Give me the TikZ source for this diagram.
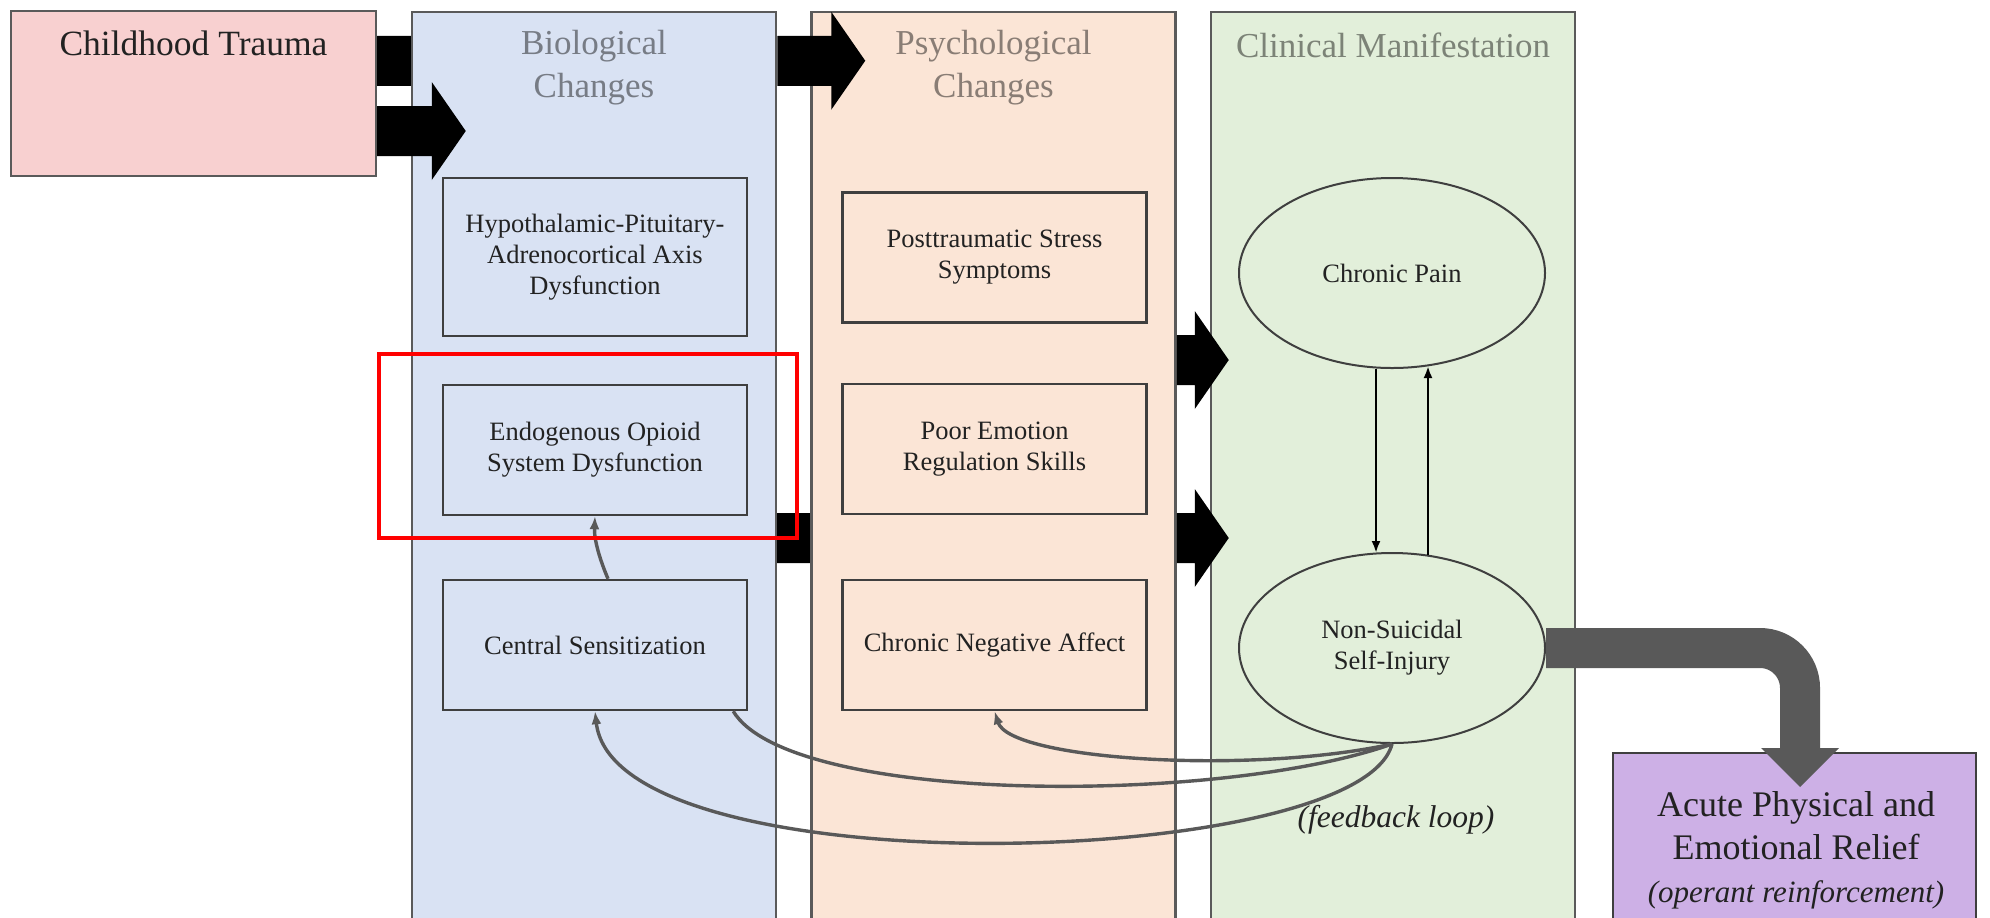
\documentclass[tikz,border=0pt]{standalone}
\usepackage{fontspec}
\setmainfont{Liberation Serif}
\usetikzlibrary{calc,shapes.geometric,arrows.meta,backgrounds}

\definecolor{ctfill}{HTML}{F8D0D0}
\definecolor{biofill}{HTML}{D9E2F3}
\definecolor{psyfill}{HTML}{FBE5D6}
\definecolor{clinfill}{HTML}{E2EFDA}
\definecolor{relieffill}{HTML}{CDB0E6}
\definecolor{edgegray}{HTML}{5A5A5A}
\definecolor{boxedge}{HTML}{3F3F3F}
\definecolor{loopgray}{HTML}{595959}
\definecolor{inktext}{HTML}{222222}
\definecolor{markred}{HTML}{FF0000}

\tikzset{
  stagecol/.style={draw=edgegray, line width=1.25pt, inner sep=0pt,
    minimum width=182pt, minimum height=464pt},
  coltitle/.style={text=black, text opacity=0.45, align=center,
    font=\fontsize{17.5}{21.5}\selectfont},
  headbox/.style={draw=edgegray, line width=1.1pt, fill=ctfill, inner sep=0pt,
    minimum width=182.5pt, minimum height=82.5pt},
  headtext/.style={text=inktext, font=\fontsize{17.75}{21.5}\selectfont},
  stagebox/.style={draw=boxedge, line width=1.2pt, inner sep=0pt,
    minimum width=152pt, minimum height=65pt, align=center, text=inktext,
    font=\fontsize{13.25}{15.5}\selectfont},
  outcome/.style={ellipse, draw=boxedge, line width=1pt, inner sep=0pt,
    minimum width=153pt, minimum height=95pt, align=center, text=inktext,
    font=\fontsize{13.25}{15.5}\selectfont},
  fatfill/.style={fill=black},
  link/.style={draw=black, line width=1.3pt, -{Latex[length=6pt,width=4.5pt]}},
  feedback/.style={draw=loopgray, line width=1.7pt},
  feedtip/.style={-{Latex[length=6.5pt,width=5pt]}},
  reliefbox/.style={draw=boxedge, line width=1.1pt, fill=relieffill, inner sep=0pt,
    minimum width=181.5pt, minimum height=93.5pt},
  relieftext/.style={text=inktext, align=center, font=\fontsize{18}{21.5}\selectfont},
  reliefshaft/.style={draw=loopgray, line width=20pt, rounded corners=20pt},
  highlight/.style={draw=markred, line width=2.1pt, inner sep=0pt,
    minimum width=209pt, minimum height=92pt},
}

% block arrow from a start coordinate to a tip coordinate (horizontal)
\newcommand\fatarrow[2]{%
  \fill[fatfill] ($(#1)+(0,-25)$) -- ($(#2)+(-34,-25)$) -- ($(#2)+(-34,-49)$)
    -- (#2) -- ($(#2)+(-34,49)$) -- ($(#2)+(-34,25)$) -- ($(#1)+(0,25)$) -- cycle;}

\begin{document}
\begin{tikzpicture}[x=0.5pt,y=-0.5pt]
\useasboundingbox (0,0) rectangle (1990,917);
\clip (0,0) rectangle (1990,917);

% stage columns
\node[stagecol, fill=biofill]  (bio)   at (594,476)   {};
\node[stagecol, fill=psyfill]  (psych) at (993.5,476) {};
\node[stagecol, fill=clinfill] (clin)  at (1393,476)  {};

% origin box
\node[headbox] (ct) at (193.5,93.5) {};
\node[headtext] (cttext) at (193.5,43) {Childhood Trauma};

% block arrows whose heads sit behind the next column
\begin{pgfonlayer}{background}
  \coordinate (h1s) at ($(ct.north east)+(0,51)$);
  \coordinate (h1t) at ($(h1s -| bio.west)+(60,0)$);
  \fatarrow{h1s}{h1t}
  \coordinate (h2s) at ($(bio.east)+(-20,62)$);
  \coordinate (h2t) at ($(h2s -| psych.west)+(60,0)$);
  \fatarrow{h2s}{h2t}
\end{pgfonlayer}

% column titles
\node[coltitle] (biot)  at (594,68)   {Biological\\Changes};
\node[coltitle] (psyt)  at (993.5,68) {Psychological\\Changes};
\node[coltitle] (clint) at (1393,45)  {Clinical Manifestation};

% visible block arrows
\coordinate (a1s) at ($(ct.east)+(0,37.5)$);
\coordinate (a1t) at ($(a1s -| bio.west)+(55,0)$);
\fatarrow{a1s}{a1t}
\coordinate (a2s) at ($(bio.north east)+(0,50)$);
\coordinate (a2t) at ($(a2s -| psych.west)+(55,0)$);
\fatarrow{a2s}{a2t}
\coordinate (a3s) at ($(psych.east)+(0,-116)$);
\coordinate (a3t) at ($(a3s -| clin.west)+(19,0)$);
\fatarrow{a3s}{a3t}
\coordinate (a4s) at ($(psych.east)+(0,62)$);
\coordinate (a4t) at ($(a4s -| clin.west)+(19,0)$);
\fatarrow{a4s}{a4t}

% biological changes
\node[stagebox, minimum height=79pt] (hpa) at (595,257)
  {Hypothalamic-Pituitary-\\Adrenocortical Axis\\Dysfunction};
\node[stagebox] (eos) at (595,450) {Endogenous Opioid\\System Dysfunction};
\node[stagebox] (cs)  at (595,645) {Central Sensitization};

% psychological changes
\node[stagebox] (pts) at (994.5,257.5) {Posttraumatic Stress\\Symptoms};
\node[stagebox] (per) at (994.5,449)   {Poor Emotion\\Regulation Skills};
\node[stagebox] (cna) at (994.5,645)   {Chronic Negative Affect};

% clinical manifestation
\node[outcome] (cp)   at (1392,273) {Chronic Pain};
\node[outcome] (nssi) at (1392,648) {Non-Suicidal\\Self-Injury};

\draw[link] ($(cp.south)+(-16,0)$) -- ($(nssi.north)+(-16,1)$);
\draw[link] ($(nssi.north)+(36,3)$) -- ($(cp.south)+(36,-3)$);

% feedback loop
\draw[feedback, feedtip] (nssi.south) .. controls (1250,775) and (1010,760) .. (cna.south);
\draw[feedback] ($(cs.south east)+(-15,0)$) .. controls (790,805) and (1220,805) .. (nssi.south);
\draw[feedback, feedtip] (nssi.south) .. controls (1360,870) and (615,890) .. (cs.south);
\draw[feedback, feedtip] ($(cs.north)+(13,0)$) .. controls (600,560) and (594,540) .. (eos.south);
\node[text=inktext, font=\itshape\fontsize{15.75}{18}\selectfont] (fbl) at (1396,820) {(feedback loop)};

% reinforcement outcome
\node[reliefbox] (relief) at (1794.5,846.5) {};
\node[relieftext] (rtext) at (1796,850)
  {Acute Physical and\\Emotional Relief\\{\itshape\fontsize{15.5}{21.5}\selectfont(operant reinforcement)}};
\coordinate (rtip) at (1800,787);
\draw[reliefshaft] (nssi.east) -- (rtip |- nssi.east) -- ($(rtip)+(0,-38)$);
\fill[loopgray] ($(rtip)+(-39,-39)$) -- ($(rtip)+(39,-39)$) -- (rtip) -- cycle;

% emphasis frame around the opioid box
\node[highlight] (focus) at (588,446) {};
\end{tikzpicture}
\end{document}
